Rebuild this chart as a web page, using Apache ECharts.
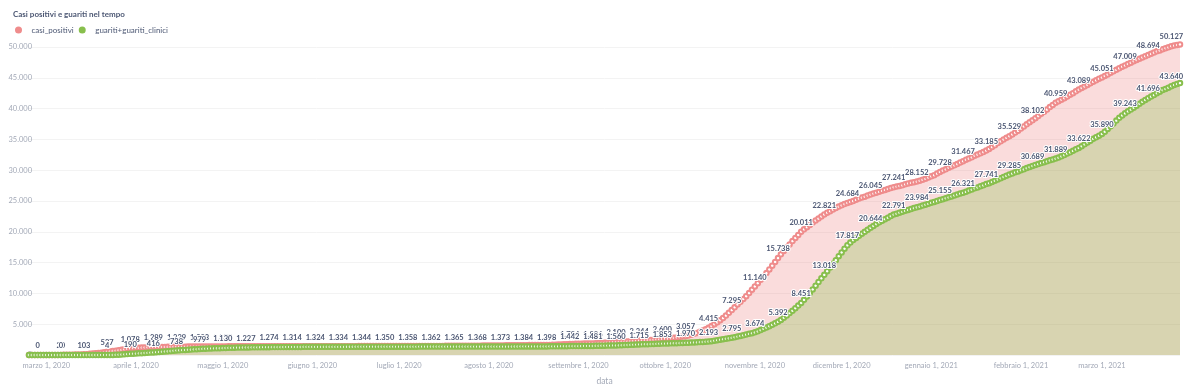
<!DOCTYPE html>
<html><head><meta charset="utf-8">
<script src="https://cdn.jsdelivr.net/npm/echarts@6/dist/echarts.min.js"></script>
<style>html,body{margin:0;padding:0;background:#fff}#c{width:1200px;height:391px}</style>
</head><body><div id="c"></div>
<script>
// first day of the daily series
const startDate = [2020, 1, 24]; // 24 Feb 2020
const monthNames = ['gennaio','febbraio','marzo','aprile','maggio','giugno','luglio','agosto','settembre','ottobre','novembre','dicembre'];
const yTicks = [0,5000,10000,15000,20000,25000,30000,35000,40000,45000,50000];

const casiPositivi = [
0,0,0,0,
0,0,1,2,4,7,12,20,
26,33,44,56,66,78,90,103,
138,183,226,270,321,375,437,527,
586,648,700,780,850,920,1000,1078,
1110,1145,1175,1200,1225,1245,1268,1289,
1296,1305,1310,1316,1321,1327,1334,1339,
1345,1350,1356,1360,1366,1371,1378,1383,
1386,1388,1390,1392,1394,1395,1397,1398,
1400,1402,1403,1404,1405,1407,1408,1410,
1412,1413,1414,1415,1416,1418,1420,1422,
1424,1425,1426,1427,1428,1429,1430,1430,
1431,1431,1432,1432,1433,1433,1434,1434,
1435,1435,1436,1436,1437,1437,1437,1438,
1438,1439,1439,1440,1440,1440,1441,1441,
1442,1442,1443,1443,1444,1444,1445,1445,
1446,1447,1448,1449,1450,1451,1452,1453,
1455,1457,1459,1461,1463,1465,1467,1469,
1471,1473,1476,1479,1482,1485,1488,1491,
1494,1497,1500,1503,1506,1509,1512,1515,
1519,1523,1527,1531,1536,1541,1546,1551,
1557,1563,1569,1575,1582,1589,1596,1600,
1603,1606,1609,1612,1615,1618,1622,1628,
1640,1655,1670,1690,1710,1735,1760,1784,
1800,1812,1825,1838,1850,1862,1874,1886,
1905,1930,1955,1985,2015,2045,2075,2100,
2125,2150,2180,2210,2245,2275,2310,2344,
2370,2395,2420,2450,2480,2515,2555,2600,
2640,2680,2730,2790,2850,2920,2990,3057,
3160,3290,3430,3590,3760,3960,4180,4415,
4700,5000,5300,5650,6000,6400,6850,7295,
7750,8200,8650,9100,9550,10050,10600,11140,
11650,12200,12750,13300,13900,14500,15100,15738,
16350,16900,17450,17950,18500,19000,19500,20011,
20400,20750,21100,21500,21850,22150,22500,22821,
23100,23350,23600,23850,24100,24300,24500,24684,
24850,25000,25200,25400,25550,25700,25900,26045,
26200,26350,26500,26650,26800,26950,27100,27241,
27350,27450,27550,27700,27850,27950,28050,28152,
28300,28450,28600,28800,29000,29200,29450,29728,
29950,30150,30400,30600,30800,31000,31250,31467,
31700,31900,32100,32350,32550,32750,32950,33185,
33450,33750,34050,34400,34700,35000,35250,35529,
35800,36100,36400,36750,37100,37450,37800,38102,
38450,38800,39150,39500,39850,40250,40600,40959,
41200,41450,41700,41950,42250,42500,42800,43089,
43350,43600,43850,44100,44350,44600,44850,45051,
45300,45550,45800,46050,46300,46550,46800,47009,
47250,47450,47700,47900,48100,48300,48500,48694,
48900,49100,49300,49450,49650,49800,49950,50127,
50230,50330,50420
];

const guariti = [
0,0,0,0,
0,0,0,0,0,0,0,0,
0,0,0,0,0,0,0,0,
0,0,0,1,1,2,3,4,
8,15,30,50,80,110,150,190,
215,240,270,300,330,360,390,416,
450,490,530,570,610,650,695,738,
770,800,830,860,890,920,950,979,
1000,1020,1040,1060,1080,1095,1112,1130,
1145,1160,1172,1185,1198,1208,1218,1227,
1234,1240,1246,1252,1258,1263,1269,1274,
1279,1284,1289,1294,1299,1304,1309,1314,
1315,1316,1318,1319,1320,1321,1323,1324,
1325,1326,1328,1329,1330,1331,1333,1334,
1335,1336,1338,1339,1340,1341,1343,1344,
1345,1346,1346,1347,1348,1348,1349,1350,
1351,1352,1353,1354,1355,1356,1357,1358,
1358,1359,1359,1360,1360,1361,1361,1362,
1362,1363,1363,1363,1364,1364,1365,1365,
1365,1366,1366,1366,1367,1367,1368,1368,
1369,1369,1370,1370,1371,1371,1372,1373,
1374,1375,1376,1378,1379,1381,1382,1384,
1386,1388,1389,1391,1393,1395,1396,1398,
1402,1407,1413,1419,1425,1430,1436,1442,
1446,1451,1456,1461,1466,1471,1476,1481,
1490,1500,1510,1520,1530,1540,1550,1560,
1575,1595,1615,1635,1655,1675,1695,1715,
1730,1748,1765,1783,1800,1818,1835,1853,
1865,1880,1895,1910,1925,1940,1955,1970,
1990,2015,2040,2065,2095,2125,2160,2193,
2250,2320,2400,2480,2560,2640,2720,2795,
2890,2990,3090,3200,3310,3430,3550,3674,
3850,4050,4250,4450,4680,4900,5150,5392,
5700,6050,6400,6800,7200,7600,8020,8451,
8950,9500,10050,10650,11250,11850,12450,13018,
13600,14200,14800,15400,16050,16650,17250,17817,
18250,18650,19000,19350,19700,20000,20350,20644,
20950,21250,21550,21800,22050,22300,22550,22791,
22950,23100,23250,23400,23550,23700,23850,23984,
24100,24250,24400,24550,24700,24850,25000,25155,
25300,25450,25600,25750,25900,26050,26200,26321,
26500,26700,26850,27050,27200,27400,27550,27741,
27900,28100,28300,28500,28700,28900,29100,29285,
29450,29650,29800,30000,30150,30350,30500,30689,
30850,31000,31150,31300,31450,31600,31750,31889,
32050,32250,32450,32700,32900,33150,33400,33622,
33900,34200,34500,34800,35100,35350,35600,35890,
36250,36700,37150,37600,38050,38500,38900,39243,
39550,39850,40150,40450,40800,41100,41400,41696,
41950,42200,42500,42750,43000,43200,43400,43640,
43850,44000,44150
];

const N = casiPositivi.length;
const dates = [];
for (let i = 0; i < N; i++) {
  const d = new Date(startDate[0], startDate[1], startDate[2] + i);
  dates.push(d.getFullYear() + '-' + (d.getMonth() + 1) + '-' + d.getDate());
}
function fmtIt(v) { return String(Math.round(v)).replace(/\B(?=(\d{3})+(?!\d))/g, '.'); }
function isLabelIdx(i) { return (i - 3) % 8 === 0; }

const RED = '#EF8C8C', GREEN = '#88BF4D', TXT = '#4c5773', AX = '#a3a9b7';
const labelBase = { show: true, position: 'top', distance: 2, fontFamily: 'Lato', fontSize: 7.5, fontWeight: 'bold', color: TXT, textBorderColor: '#fff', textBorderWidth: 2 };

const chart = echarts.init(document.getElementById('c'), null, { renderer: 'canvas' });
chart.setOption({
  animation: false,
  textStyle: { fontFamily: 'Lato' },
  title: { text: 'Casi positivi e guariti nel tempo', left: 8, top: 5, textStyle: { fontFamily: 'Lato', fontSize: 8, fontWeight: 'bold', color: TXT } },
  legend: { left: 10, top: 21, icon: 'circle', itemWidth: 16, itemHeight: 7, itemGap: 5, textStyle: { fontFamily: 'Lato', fontSize: 8, color: TXT }, data: ['casi_positivi', 'guariti+guariti_clinici'] },
  grid: { left: 29, right: 20, top: 47, bottom: 33, containLabel: false },
  xAxis: {
    type: 'category', data: dates, boundaryGap: false,
    name: 'data', nameLocation: 'middle', nameGap: 22, nameTextStyle: { fontFamily: 'Lato', fontSize: 8.5, color: AX },
    axisLine: { show: false }, axisTick: { show: false },
    axisLabel: {
      interval: function (i, v) { return v.split('-')[2] === '1'; },
      fontFamily: 'Lato', fontSize: 7.5, color: AX, margin: 7,
      formatter: function (v) { const p = v.split('-'); return monthNames[+p[1] - 1] + ' ' + p[2] + ', ' + p[0]; }
    },
    splitLine: { show: false }
  },
  yAxis: {
    type: 'value', min: yTicks[0], max: yTicks[yTicks.length - 1], interval: yTicks[1] - yTicks[0],
    axisLine: { show: false }, axisTick: { show: false },
    axisLabel: { fontFamily: 'Lato', fontSize: 7.5, color: AX, margin: -3, formatter: fmtIt },
    splitLine: { lineStyle: { color: '#f3f3f3', width: 1 } }
  },
  series: [
    {
      name: 'casi_positivi', type: 'line', data: casiPositivi, clip: false, z: 2,
      symbol: 'emptyCircle', symbolSize: 4.5, showAllSymbol: true,
      lineStyle: { color: RED, width: 1 }, itemStyle: { color: RED, borderWidth: 0.9 },
      areaStyle: { color: RED, opacity: 0.3 },
      label: Object.assign({}, labelBase, { formatter: function (p) {
        const i = p.dataIndex; if (!isLabelIdx(i)) return '';
        const diff = casiPositivi[i] - guariti[i];
        if (diff > 0 && diff < 250 && guariti[i] > 900) return '';
        return fmtIt(p.value);
      } }),
      emphasis: { disabled: true }
    },
    {
      name: 'guariti+guariti_clinici', type: 'line', data: guariti, clip: false, z: 3,
      symbol: 'emptyCircle', symbolSize: 4.5, showAllSymbol: true,
      lineStyle: { color: GREEN, width: 1 }, itemStyle: { color: GREEN, borderWidth: 0.9 },
      areaStyle: { color: GREEN, opacity: 0.3 },
      label: Object.assign({}, labelBase, { formatter: function (p) {
        const i = p.dataIndex; if (!isLabelIdx(i)) return '';
        if (guariti[i] === 0 && casiPositivi[i] > 50) return '';
        return fmtIt(p.value);
      } }),
      emphasis: { disabled: true }
    }
  ]
});
</script></body></html>
